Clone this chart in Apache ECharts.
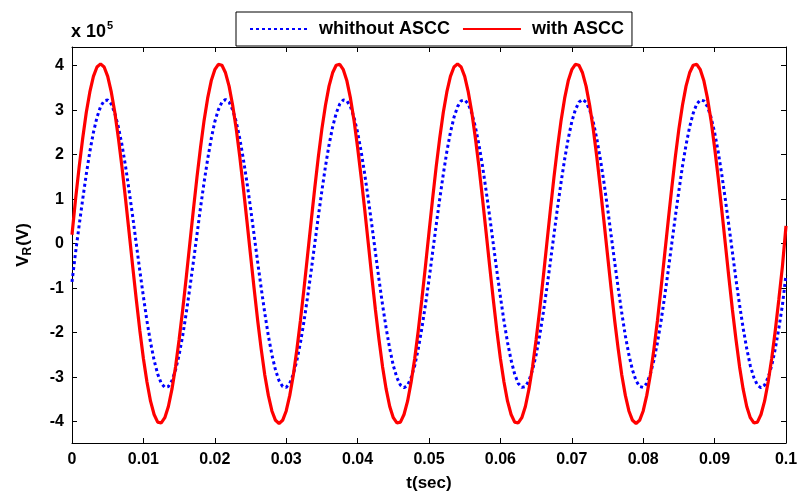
<!DOCTYPE html>
<html>
<head>
<meta charset="utf-8">
<script src="https://cdn.jsdelivr.net/npm/echarts@6/dist/echarts.min.js"></script>
<style>html,body{margin:0;padding:0;background:#fff;}#c{width:798px;height:492px;}</style>
</head>
<body>
<div id="c"></div>
<script>
// time samples (s)
const tSec = [
0,0.0005,0.001,0.0015,0.002,0.0025,0.003,0.0035,0.004,0.0045,0.005,0.0055,0.006,0.0065,0.007,0.0075,0.008,0.0085,0.009,0.0095,
0.01,0.0105,0.011,0.0115,0.012,0.0125,0.013,0.0135,0.014,0.0145,0.015,0.0155,0.016,0.0165,0.017,0.0175,0.018,0.0185,0.019,0.0195,
0.02,0.0205,0.021,0.0215,0.022,0.0225,0.023,0.0235,0.024,0.0245,0.025,0.0255,0.026,0.0265,0.027,0.0275,0.028,0.0285,0.029,0.0295,
0.03,0.0305,0.031,0.0315,0.032,0.0325,0.033,0.0335,0.034,0.0345,0.035,0.0355,0.036,0.0365,0.037,0.0375,0.038,0.0385,0.039,0.0395,
0.04,0.0405,0.041,0.0415,0.042,0.0425,0.043,0.0435,0.044,0.0445,0.045,0.0455,0.046,0.0465,0.047,0.0475,0.048,0.0485,0.049,0.0495,
0.05,0.0505,0.051,0.0515,0.052,0.0525,0.053,0.0535,0.054,0.0545,0.055,0.0555,0.056,0.0565,0.057,0.0575,0.058,0.0585,0.059,0.0595,
0.06,0.0605,0.061,0.0615,0.062,0.0625,0.063,0.0635,0.064,0.0645,0.065,0.0655,0.066,0.0665,0.067,0.0675,0.068,0.0685,0.069,0.0695,
0.07,0.0705,0.071,0.0715,0.072,0.0725,0.073,0.0735,0.074,0.0745,0.075,0.0755,0.076,0.0765,0.077,0.0775,0.078,0.0785,0.079,0.0795,
0.08,0.0805,0.081,0.0815,0.082,0.0825,0.083,0.0835,0.084,0.0845,0.085,0.0855,0.086,0.0865,0.087,0.0875,0.088,0.0885,0.089,0.0895,
0.09,0.0905,0.091,0.0915,0.092,0.0925,0.093,0.0935,0.094,0.0945,0.095,0.0955,0.096,0.0965,0.097,0.0975,0.098,0.0985,0.099,0.0995,
0.1];

// V_R without ASCC (x 10^5 V)
const withoutASCC = [
-0.86,-0.20,0.41,1.00,1.56,2.07,2.50,2.84,3.08,3.21,3.23,3.14,2.93,2.62,2.22,1.74,1.19,0.61,0,
-0.61,-1.19,-1.74,-2.22,-2.62,-2.93,-3.14,-3.23,-3.21,-3.08,-2.84,-2.50,-2.07,-1.56,-1.00,-0.41,
0.20,0.81,1.38,1.90,2.36,2.74,3.01,3.18,3.24,3.18,3.01,2.74,2.36,1.90,1.38,0.81,0.20,
-0.41,-1.00,-1.56,-2.07,-2.50,-2.84,-3.08,-3.21,-3.23,-3.14,-2.93,-2.62,-2.22,-1.74,-1.19,-0.61,
0,0.61,1.19,1.74,2.22,2.62,2.93,3.14,3.23,3.21,3.08,2.84,2.50,2.07,1.56,1.00,0.41,
-0.20,-0.81,-1.38,-1.90,-2.36,-2.74,-3.01,-3.18,-3.24,-3.18,-3.01,-2.74,-2.36,-1.90,-1.38,
-0.81,-0.20,0.41,1.00,1.56,2.07,2.50,2.84,3.08,3.21,3.23,3.14,2.93,2.62,2.22,1.74,1.19,0.61,0,
-0.61,-1.19,-1.74,-2.22,-2.62,-2.93,-3.14,-3.23,-3.21,-3.08,-2.84,-2.50,-2.07,-1.56,-1.00,-0.41,
0.20,0.81,1.38,1.90,2.36,2.74,3.01,3.18,3.24,3.18,3.01,2.74,2.36,1.90,1.38,0.81,0.20,
-0.41,-1.00,-1.56,-2.07,-2.50,-2.84,-3.08,-3.21,-3.23,-3.14,-2.93,-2.62,-2.22,-1.74,-1.19,-0.61,
0,0.61,1.19,1.74,2.22,2.62,2.93,3.14,3.23,3.21,3.08,2.84,2.50,2.07,1.56,1.00,0.41,
-0.20,-0.81,-1.38,-1.90,-2.36,-2.74,-3.01,-3.18,-3.24,-3.18,-3.01,-2.74,-2.36,-1.90,-1.38,
-0.70];

// V_R with ASCC (x 10^5 V)
const withASCC = [
0.20,1.00,1.72,2.37,2.95,3.41,3.76,3.97,4.04,3.97,3.76,3.41,2.95,2.37,1.72,1.00,0.25,
-0.51,-1.25,-1.95,-2.58,-3.11,-3.54,-3.84,-4.01,-4.03,-3.91,-3.66,-3.27,-2.77,-2.16,-1.49,-0.76,
0,0.76,1.49,2.16,2.77,3.27,3.66,3.91,4.03,4.01,3.84,3.54,3.11,2.58,1.95,1.25,0.51,
-0.25,-1.00,-1.72,-2.37,-2.95,-3.41,-3.76,-3.97,-4.04,-3.97,-3.76,-3.41,-2.95,-2.37,-1.72,-1.00,-0.25,
0.51,1.25,1.95,2.58,3.11,3.54,3.84,4.01,4.03,3.91,3.66,3.27,2.77,2.16,1.49,0.76,0,
-0.76,-1.49,-2.16,-2.77,-3.27,-3.66,-3.91,-4.03,-4.01,-3.84,-3.54,-3.11,-2.58,-1.95,-1.25,-0.51,
0.25,1.00,1.72,2.37,2.95,3.41,3.76,3.97,4.04,3.97,3.76,3.41,2.95,2.37,1.72,1.00,0.25,
-0.51,-1.25,-1.95,-2.58,-3.11,-3.54,-3.84,-4.01,-4.03,-3.91,-3.66,-3.27,-2.77,-2.16,-1.49,-0.76,
0,0.76,1.49,2.16,2.77,3.27,3.66,3.91,4.03,4.01,3.84,3.54,3.11,2.58,1.95,1.25,0.51,
-0.25,-1.00,-1.72,-2.37,-2.95,-3.41,-3.76,-3.97,-4.04,-3.97,-3.76,-3.41,-2.95,-2.37,-1.72,-1.00,-0.25,
0.51,1.25,1.95,2.58,3.11,3.54,3.84,4.01,4.03,3.91,3.66,3.27,2.77,2.16,1.49,0.76,0,
-0.76,-1.49,-2.16,-2.77,-3.27,-3.66,-3.91,-4.03,-4.01,-3.84,-3.54,-3.11,-2.58,-1.95,-1.25,-0.51,
0.40];

const seriesNames = ['whithout ASCC', 'with ASCC'];
const xTicks = [0, 0.01, 0.02, 0.03, 0.04, 0.05, 0.06, 0.07, 0.08, 0.09, 0.1];
const yTicks = [-4, -3, -2, -1, 0, 1, 2, 3, 4];

const FONT = '"Liberation Sans", Arial, sans-serif';
const pairs = (ys) => tSec.map((t, i) => [t, ys[i]]);

const chart = echarts.init(document.getElementById('c'), null, {renderer: 'canvas'});
const axisLineStyle = {color: '#000', width: 1};
const tickStyle = {show: true, inside: true, length: 5, lineStyle: {color: '#000', width: 1}};

chart.setOption({
  animation: false,
  backgroundColor: '#fff',
  grid: {left: 72, right: 12, top: 47, bottom: 49, containLabel: false, outerBoundsMode: 'none'},
  legend: {
    data: seriesNames,
    left: 236, top: 12,
    orient: 'horizontal',
    backgroundColor: '#fff',
    borderColor: '#000', borderWidth: 1,
    padding: [8, 8, 8, 13],
    itemWidth: 58, itemHeight: 14, itemGap: 12,
    itemStyle: {opacity: 0},
    textStyle: {fontFamily: FONT, fontWeight: 'bold', fontSize: 18, lineHeight: 16, color: '#000', padding: [2, 0, 0, 6]}
  },
  xAxis: [{
    type: 'value', min: 0, max: 0.1, position: 'bottom',
    name: 't(sec)', nameLocation: 'middle', nameGap: 32,
    nameTextStyle: {fontFamily: FONT, fontWeight: 'bold', fontSize: 17, color: '#000'},
    axisLine: {show: true, onZero: false, lineStyle: axisLineStyle},
    axisTick: Object.assign({customValues: xTicks}, tickStyle),
    axisLabel: {customValues: xTicks, fontFamily: FONT, fontWeight: 'bold', fontSize: 16, color: '#000', margin: 9},
    splitLine: {show: false}
  }, {
    type: 'value', min: 0, max: 0.1, position: 'top',
    axisLine: {show: true, onZero: false, lineStyle: axisLineStyle},
    axisTick: Object.assign({customValues: xTicks}, tickStyle),
    axisLabel: {show: false},
    splitLine: {show: false}
  }],
  yAxis: [{
    type: 'value', min: -4.48, max: 4.42, position: 'left',
    name: '{a|V}{s|R}{a|(V)}', nameLocation: 'middle', nameGap: 38, nameRotate: 90,
    nameTextStyle: {
      rich: {
        a: {fontFamily: FONT, fontWeight: 'bold', fontSize: 17, color: '#000'},
        s: {fontFamily: FONT, fontWeight: 'bold', fontSize: 12, color: '#000', padding: [10, 1, 0, 0]}
      }
    },
    axisLine: {show: true, onZero: false, lineStyle: axisLineStyle},
    axisTick: Object.assign({customValues: yTicks}, tickStyle),
    axisLabel: {customValues: yTicks, fontFamily: FONT, fontWeight: 'bold', fontSize: 16, color: '#000', margin: 8},
    splitLine: {show: false}
  }, {
    type: 'value', min: -4.48, max: 4.42, position: 'right',
    axisLine: {show: true, onZero: false, lineStyle: axisLineStyle},
    axisTick: Object.assign({customValues: yTicks}, tickStyle),
    axisLabel: {show: false},
    splitLine: {show: false}
  }],
  graphic: [{
    type: 'text', left: 71, top: 20,
    style: {
      text: '{a|x 10}{s|5}',
      rich: {
        a: {fontFamily: FONT, fontWeight: 'bold', fontSize: 18, fill: '#000', padding: [6, 0, 0, 0]},
        s: {fontFamily: FONT, fontWeight: 'bold', fontSize: 11, fill: '#000', padding: [0, 0, 8, 1]}
      }
    }
  }],
  series: [{
    name: seriesNames[0], type: 'line', xAxisIndex: 0, yAxisIndex: 0,
    data: pairs(withoutASCC), symbol: 'none', smooth: false,
    lineStyle: {color: '#0000ff', width: 3, type: [3, 3]},
    itemStyle: {color: '#0000ff'}
  }, {
    name: seriesNames[1], type: 'line', xAxisIndex: 0, yAxisIndex: 0,
    data: pairs(withASCC), symbol: 'none', smooth: false,
    lineStyle: {color: '#ff0000', width: 3.2, type: 'solid'},
    itemStyle: {color: '#ff0000'}
  }]
});
</script>
</body>
</html>
